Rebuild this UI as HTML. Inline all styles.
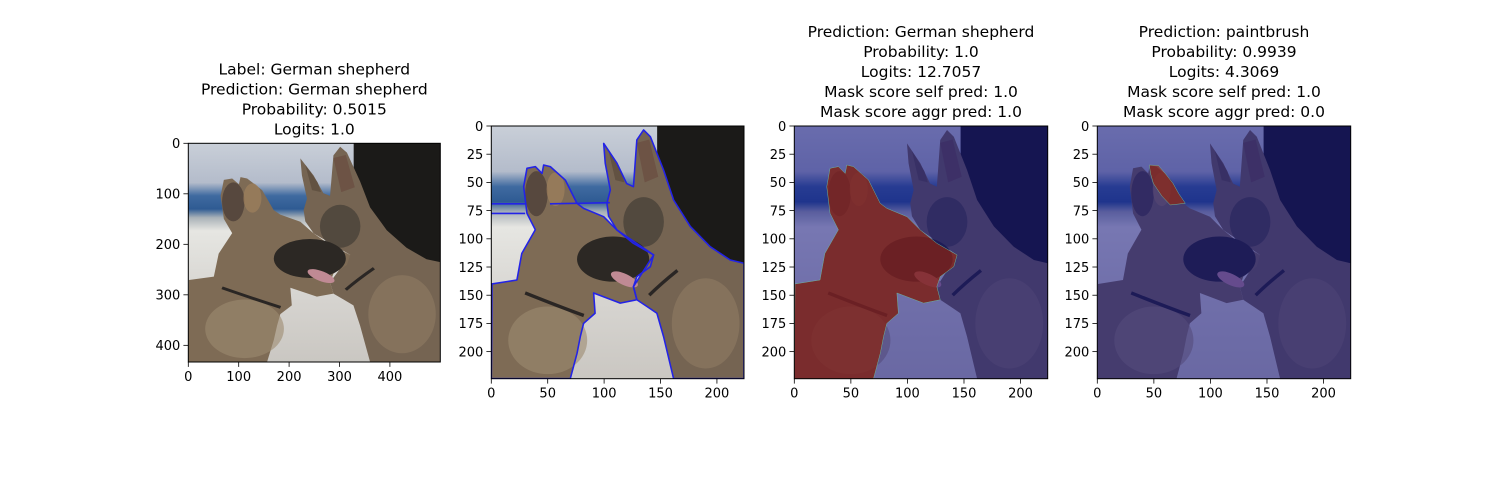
<!DOCTYPE html>
<html><head><meta charset="utf-8">
<style>
html,body{margin:0;padding:0;background:#fff;}
svg{display:block;font-family:"DejaVu Sans","Liberation Sans",sans-serif;}
</style></head>
<body>
<svg id="fig" width="1500" height="500" viewBox="0 0 1500 500" xmlns="http://www.w3.org/2000/svg">
<defs>
  <linearGradient id="sky" x1="0" y1="0" x2="0" y2="1">
    <stop offset="0" stop-color="#c9cfd8"/>
    <stop offset="0.18" stop-color="#b4bccb"/>
    <stop offset="0.24" stop-color="#3f6aa0"/>
    <stop offset="0.30" stop-color="#2f5b93"/>
    <stop offset="0.34" stop-color="#a9b2b8"/>
    <stop offset="0.40" stop-color="#e6e6e2"/>
    <stop offset="0.7" stop-color="#d6d4d0"/>
    <stop offset="1" stop-color="#cac7c2"/>
  </linearGradient>
  <clipPath id="imgclip"><rect x="0" y="0" width="224" height="224"/></clipPath>
  <polygon id="leftdog" points="0.6,140 22.7,136.5 27,113 39,92 31.6,77.4 28.7,53.8 31.6,37.5 39,36 45,42 46.4,34.6 52.3,36 65.6,47.9 75.9,68.5 81.8,73 99.6,80.4 111.4,92.2 126,104 143.9,114.3 141,124.7 129,133.5 126,142.4 129,154 114.3,157 90.7,148 92,166 81.8,175 78.9,186.7 76,201.5 70,224 0,224"/>
  <polygon id="rightdog" points="99.6,15.4 111.4,33 120,51 126,53.8 129,12.4 135,3.5 141,9.5 152.7,39 161.6,65.6 176.4,89 194,107 211.8,118.8 224,121.7 224,224 161.6,224 152.7,186.7 146.8,166 138,160 129,154 126,142.4 143.9,114.3 111.4,92.2 104,80 102.5,68.5 105.5,56.7 101,33"/>
  <polygon id="earmask" points="46,34.6 54,35 60,42 67,51 72,60 77.8,68.5 64.5,70 57,62 49.6,51 47,42"/>
  <g id="scene">
    <rect x="0" y="0" width="224" height="224" fill="url(#sky)"/>
    <rect x="147" y="0" width="77" height="125" fill="#1b1a18"/>
    <use href="#rightdog" fill="#756452"/>
    <ellipse cx="190" cy="175" rx="30" ry="40" fill="#8f7c64" opacity="0.6"/>
    <ellipse cx="135" cy="85" rx="18" ry="22" fill="#4a423a" opacity="0.8"/>
    <polygon points="129,15 140,12 148,45 136,50" fill="#6a4c40" opacity="0.7"/>
    <polygon points="104,22 115,40 118,50 110,48" fill="#5a4a3c" opacity="0.7"/>
    <use href="#leftdog" fill="#7e6b55"/>
    <ellipse cx="108" cy="118" rx="32" ry="20" fill="#2c2824"/>
    <ellipse cx="50" cy="190" rx="35" ry="30" fill="#9c8a70" opacity="0.6"/>
    <ellipse cx="40" cy="60" rx="10" ry="20" fill="#4e4038" opacity="0.8"/>
    <ellipse cx="57" cy="56" rx="8" ry="15" fill="#a0805c" opacity="0.7"/>
    <ellipse cx="118" cy="136" rx="13" ry="5" fill="#c08a94" transform="rotate(25 118 136)"/>
    <path d="M30,148 Q60,160 82,168" stroke="#2a2624" stroke-width="3" fill="none"/>
    <path d="M140,150 Q150,140 165,128" stroke="#2a2624" stroke-width="3" fill="none"/>
  </g>
</defs>
<g id="panels"></g>
</svg>
<script>
const panelTitles = [
  ["Label: German shepherd","Prediction: German shepherd","Probability: 0.5015","Logits: 1.0"],
  [],
  ["Prediction: German shepherd","Probability: 1.0","Logits: 12.7057","Mask score self pred: 1.0","Mask score aggr pred: 1.0"],
  ["Prediction: paintbrush","Probability: 0.9939","Logits: 4.3069","Mask score self pred: 1.0","Mask score aggr pred: 0.0"]
];
const imgWidths = [500, 224, 224, 224];
const imgHeights = [433, 224, 224, 224];
const xTicks1 = [0,100,200,300,400];
const yTicks1 = [0,100,200,300,400];
const xTicks2 = [0,50,100,150,200];
const yTicks2 = [0,25,50,75,100,125,150,175,200];
const NS = "http://www.w3.org/2000/svg";
const boxes = [
  {x:188.3,y:143.3,w:252,h:218.7},
  {x:491.3,y:126,w:252.7,h:252.7},
  {x:794.3,y:126,w:253.4,h:252.7},
  {x:1097.3,y:126,w:253.4,h:252.7}
];
const root = document.getElementById('panels');
function mk(tag, attrs, parent){
  const e = document.createElementNS(NS, tag);
  for (const k in attrs) e.setAttribute(k, attrs[k]);
  parent.appendChild(e);
  return e;
}
boxes.forEach((b, i) => {
  const g = mk('g', {}, root);
  
  
  const sx = b.w/224, sy = b.h/224;
  const img = mk('g', {transform:`translate(${b.x},${b.y}) scale(${sx},${sy})`, 'clip-path':'url(#imgclip)'}, g);
  
  
  mk('use', {href:'#scene'}, img);
  if (i === 1) {
    const c = {fill:'none', stroke:'#2323e6', 'stroke-width':1.4, 'stroke-linejoin':'round'};
    mk('use', Object.assign({href:'#leftdog'}, c), img);
    mk('use', Object.assign({href:'#rightdog'}, c), img);
    mk('path', Object.assign({d:'M0,69 L30,69 M52,69 L105,68 M0,77.5 L30,77.5'}, c), img);
  }
  if (i >= 2) {
    mk('rect', {x:0,y:0,width:224,height:224,fill:'rgba(18,18,135,0.52)'}, img);
    const red = {fill:'rgba(155,35,5,0.62)', stroke:'#6fc0a0', 'stroke-width':0.4};
    mk('use', Object.assign({href: i===2 ? '#leftdog' : '#earmask'}, red), img);
  }
  mk('rect', {x:b.x, y:b.y, width:b.w, height:b.h, fill:'none', stroke:'#000', 'stroke-width':1}, g);
  const xt = i===0 ? xTicks1 : xTicks2, yt = i===0 ? yTicks1 : yTicks2;
  const W = imgWidths[i], H = imgHeights[i];
  xt.forEach(v => {
    const x = b.x + v/W*b.w;
    mk('line', {x1:x,x2:x,y1:b.y+b.h,y2:b.y+b.h+4.9,stroke:'#000','stroke-width':0.8}, g);
    const t = mk('text', {x:x, y:b.y+b.h+19, 'font-size':13, 'text-anchor':'middle'}, g);
    t.textContent = v;
    
    
  });
  yt.forEach(v => {
    const y = b.y + v/H*b.h;
    mk('line', {x1:b.x-4.9,x2:b.x,y1:y,y2:y,stroke:'#000','stroke-width':0.8}, g);
    const t = mk('text', {x:b.x-8, y:y+4.8, 'font-size':13, 'text-anchor':'end'}, g);
    t.textContent = v;
    
    
  });
  const lines = panelTitles[i];
  const cx = b.x + b.w/2;
  lines.forEach((s, k) => {
    const y = b.y - 9 - (lines.length-1-k)*20;
    const t = mk('text', {x:cx, y:y, 'font-size':15.5, 'text-anchor':'middle'}, g);
    t.textContent = s;
    
    
  });
});
</script>
</body></html>
